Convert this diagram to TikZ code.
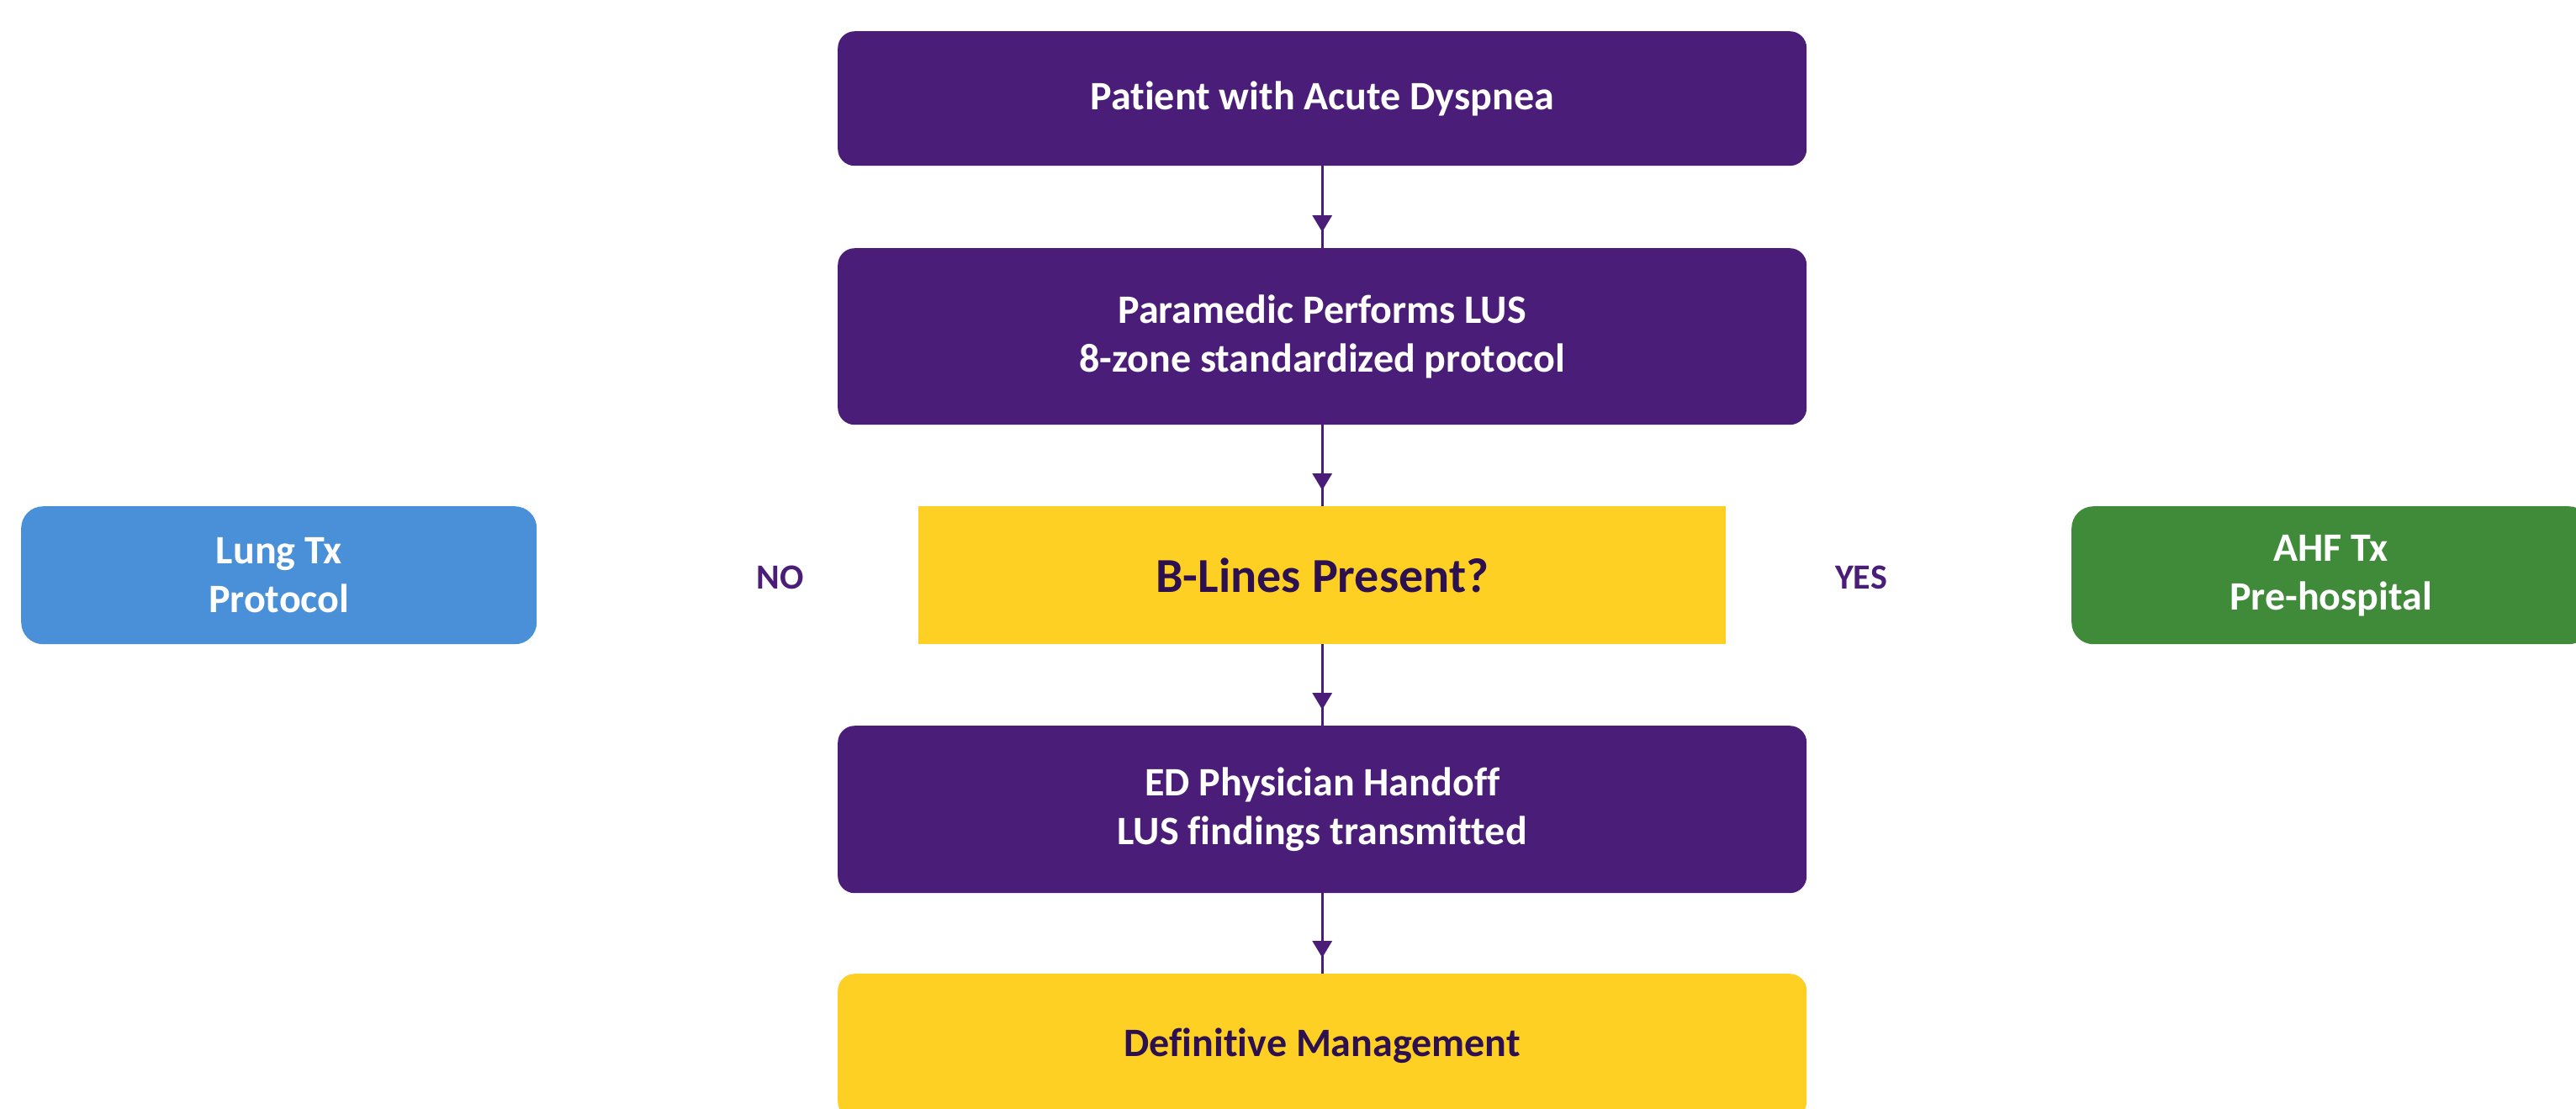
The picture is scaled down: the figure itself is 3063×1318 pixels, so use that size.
\documentclass[tikz,border=0pt]{standalone}
\usepackage{fontspec}
\setmainfont{Carlito}[Ligatures=NoCommon]
\usetikzlibrary{arrows.meta}
\definecolor{flowpurple}{HTML}{4A1D79}
\definecolor{flowyellow}{HTML}{FDD023}
\definecolor{darkink}{HTML}{2D1050}
\definecolor{lungblue}{HTML}{4A90D9}
\definecolor{ahfgreen}{HTML}{3F8B3A}
\begin{document}
\begin{tikzpicture}[x=1pt,y=-1pt,
  box/.style={anchor=north west, rectangle, inner sep=0pt, align=center,
    font=\fontsize{48}{58}\selectfont\bfseries},
  stepbox/.style={box, rounded corners=20pt, fill=flowpurple, text=white},
  goalbox/.style={box, rounded corners=20pt, fill=flowyellow, text=darkink},
  decisionbox/.style={box, fill=flowyellow, text=darkink,
    font=\fontsize{58}{66}\selectfont\bfseries},
  sidebox/.style={box, rounded corners=26pt, text=white},
  branchlabel/.style={inner sep=0pt, text=flowpurple,
    font=\fontsize{42}{48}\selectfont\bfseries},
  flowline/.style={draw=flowpurple, line width=3.2pt},
  flowtip/.style={draw=flowpurple, fill=flowpurple, line width=3.2pt,
    -{Triangle[width=23pt,length=20pt]}, shorten >=19pt},
]
\useasboundingbox (0,0) rectangle (3063,1318);

% main column
\node[stepbox, minimum width=1152pt, minimum height=160pt] (start) at (996,37)
  {Patient with Acute Dyspnea};
\node[stepbox, minimum width=1152pt, minimum height=210pt] (lus) at (996,295)
  {Paramedic Performs LUS\\8-zone standardized protocol};
\node[decisionbox, minimum width=960pt, minimum height=164pt] (blines) at (1092,602)
  {B-Lines Present?};
\node[stepbox, minimum width=1152pt, minimum height=199pt] (handoff) at (996,863)
  {ED Physician Handoff\\LUS findings transmitted};
\node[goalbox, minimum width=1152pt, minimum height=172pt] (mgmt) at (996,1158)
  {Definitive Management};

% branches
\node[sidebox, fill=lungblue, minimum width=613pt, minimum height=164pt] (lung) at (25,602)
  {Lung Tx\\Protocol};
\node[sidebox, fill=ahfgreen, minimum width=617pt, minimum height=164pt] (ahf) at (2463,602)
  {AHF Tx\\Pre-hospital};
\node[branchlabel] (no) at (928,687) {NO};
\node[branchlabel] (yes) at (2213,687) {YES};

% connectors
\foreach \a/\b in {start/lus, lus/blines, blines/handoff, handoff/mgmt} {
  \draw[flowline] (\a) -- (\b);
  \draw[flowtip] (\a) -- (\b);
}
\end{tikzpicture}
\end{document}
